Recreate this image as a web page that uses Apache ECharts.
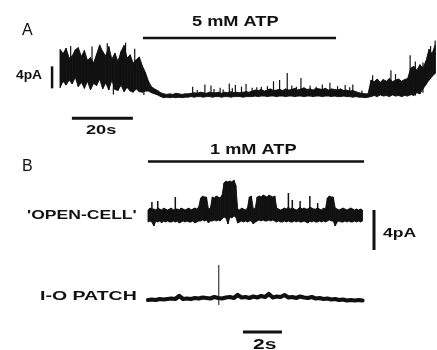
<!DOCTYPE html>
<html>
<head>
<meta charset="utf-8">
<script src="https://cdn.jsdelivr.net/npm/echarts@6/dist/echarts.min.js"></script>
<style>
  html, body { margin: 0; padding: 0; background: #fff; }
  #chart { width: 437px; height: 350px; }
</style>
</head>
<body>
<div id="chart"></div>
<script>
// ---- Panel A: whole-cell current, min/max envelope in 1 s bins (pA above closed level) ----
const A_BIN = 1;   // s
const loA = [
  1.4, 2.6, 1.9, 2.8, 2.1, 3.3, 1.6, 2.4, 1.3, 2.6,
  1.0, 2.2, 1.8, 3.0, 1.2, 2.3, 1.0, 2.8, 1.1, 0.9,
  1.9, 0.7, 1.5, 0.8, 0.6, 1.2, 0.7, 0.6, 0.8,
  0.8, 0.5, 0.3, 0.1, -0.2,
  -0.4, -0.3, -0.4, -0.3, -0.4, -0.3, -0.4, -0.3, -0.3,
  -0.2, -0.3, -0.2, -0.2, -0.3, -0.2, -0.2, -0.3, -0.2, -0.2,
  -0.3, -0.2, -0.2, -0.3, -0.2, -0.2, -0.2, -0.3, -0.2, -0.2,
  -0.2, -0.1, -0.2, -0.1, -0.1, -0.2, -0.1, -0.1, -0.2, -0.1, -0.1, -0.2, -0.1,
  -0.1, -0.2, -0.1, -0.1, -0.2, -0.1, -0.1, -0.2, -0.1, -0.1, -0.2,
  -0.1, -0.1, -0.2, -0.1, -0.2, -0.2, -0.1, -0.2, -0.2, -0.3, -0.2,
  -0.3, -0.3, -0.4, -0.3,
  -0.2, 0.0, -0.2, 0.1, -0.1, 0.0, -0.2, 0.1, -0.1, 0.0, -0.2, 0.0, -0.1,
  0.2, 0.0, 0.5, 0.3, 1.2, 2.0, 2.8, 3.5, 4.0
];
const hiA = [
  8.4, 7.6, 8.6, 6.8, 7.2, 8.3, 8.7, 7.1, 8.2, 6.4,
  6.9, 5.9, 7.5, 9.2, 8.0, 7.2, 8.9, 6.6, 7.7, 6.2,
  8.0, 9.1, 6.8, 7.4, 5.9, 6.5, 7.0, 5.4, 4.2,
  2.6, 1.6, 1.2, 0.9, 0.5,
  0.3, 0.2, 0.3, 0.2, 0.4, 0.3, 0.2, 0.3, 0.3,
  0.4, 0.5, 0.4, 0.6, 0.5, 0.4, 0.6, 0.5, 0.5, 0.6,
  0.4, 0.6, 0.5, 0.7, 0.5, 0.6, 0.5, 0.6, 0.7, 0.6,
  0.8, 1.0, 0.9, 1.1, 0.8, 1.0, 1.2, 0.9, 1.0, 1.1, 0.9, 1.2, 1.0,
  1.1, 1.3, 1.0, 1.2, 1.4, 1.1, 1.2, 1.0, 1.3, 1.2, 1.1,
  1.3, 1.0, 1.2, 1.1, 1.0, 1.2, 0.9, 1.0, 0.8, 0.9, 0.7,
  0.5, 0.4, 0.3, 0.3,
  2.8, 2.5, 3.0, 2.4, 2.9, 2.6, 3.1, 2.5, 2.8, 3.0, 2.6, 2.9, 3.1,
  5.0, 5.3, 4.6, 5.6, 5.0, 6.3, 8.4, 7.6, 9.2
];
// brief openings / closings: [time s, from pA, to pA]
const eventsA = [
  [3.5, 4, 9.0], [10.5, 4, 8.9], [15.5, 4, 9.5], [21.5, 4, 9.6], [24.5, 3, 8.5],
  [17.5, 0.2, 3], [27.5, 0.1, 2],
  [43.5, 0, 1.6], [45, 0, 1.0], [47.5, 0, 2.0], [49.5, 0, 1.8], [50.5, 0, 1.2],
  [52.5, 0, 1.4], [53.5, 0, 1.1], [55.5, 0, 2.2], [56.5, 0, 1.3], [57.5, 0, 1.9],
  [59.5, 0, 1.6], [61, 0, 2.1], [63, 0, 1.4], [64.5, 0, 1.5], [66, 0, 1.6],
  [68, 0, 1.7], [70, 0, 2.6], [72, 0, 2.8], [74.5, 0, 4.1], [76, 0, 1.8],
  [77.5, 0, 1.6], [79, 0, 3.2], [82, 0, 1.8], [84, 0, 1.6], [86, 0, 2.0],
  [88.5, 0, 2.3], [91, 0, 1.7], [93.5, 0, 1.9], [95, 0, 1.5], [96, 0, 2.0], [99, 0, 0.9],
  [102.5, 0, 3.7], [108.5, 0, 4.6], [110, 0, 3.9], [114.8, 0, 7.3],
  [116.5, 0, 6.2], [119, 0.5, 6.0], [121.5, 3, 9.0], [123, 4, 10.0]
];
const atpA_period = [27.2, 90.5];      // s, 5 mM ATP
const A_ATP_LABEL = '5 mM ATP';

// ---- Panel B: 'open-cell' record, min/max envelope in 0.1 s bins ----
const B_BIN = 0.1;   // s
const loOpen = [
  -0.1, 0.0, -0.1, -0.5, 0.0, -0.1, 0.0, -0.2, 0.0, -0.1,
  0.0, -0.1, -0.1, 0.0, -0.1, 0.0, -0.2, -0.1, 0.0, -0.1,
  0.0, -0.1, -0.1, 0.0, -0.2, -0.1, 0.0,
  0.0, 0.1, 0.0, 0.1,
  -0.2, 0.0,
  0.0, 0.1, 0.0, 0.1, 0.0, 0.2,
  0.4, 0.3, -0.3, 0.4, 0.3, 0.5, 0.4,
  -0.2, -0.1, 0.0, -0.1, 0.0, -0.1,
  0.0, 0.0, -0.3, -0.1, 0.0, 0.1, 0.0, 0.1, 0.0, 0.0, 0.1, 0.0, 0.1, 0.0,
  -0.1, 0.0, -0.1, -0.1, 0.0, -0.1, 0.0, -0.1, -0.1, 0.0,
  -0.1, 0.0, -0.1, -0.1, 0.0, -0.1, -0.2, 0.0, -0.1, 0.0,
  -0.1, -0.1, 0.0, -0.1, 0.0, -0.1,
  0.0, 0.1, 0.0, 0.0, -0.5,
  -0.1, 0.0, -0.1, -0.1, 0.0, -0.1, 0.0, -0.1, -0.1, 0.0, -0.1, 0.0, -0.1, 0.0
];
const hiOpen = [
  1.1, 1.3, 1.2, 1.2, 1.1, 1.3, 1.2, 1.1, 1.3, 1.2,
  1.1, 1.2, 1.3, 1.1, 1.2, 1.2, 1.1, 1.3, 1.2, 1.1,
  1.2, 1.3, 1.1, 1.2, 1.3, 1.2, 1.4,
  2.3, 2.5, 2.4, 2.4,
  1.2, 1.3,
  2.4, 2.3, 2.5, 2.4, 2.3, 2.6,
  3.8, 4.0, 3.9, 4.0, 3.9, 4.1, 3.6,
  1.2, 1.1, 1.3, 1.2, 1.1, 1.3,
  2.4, 2.5, 1.2, 1.3, 2.4, 2.5, 2.4, 2.6, 2.5, 2.4, 2.6, 2.5, 2.4, 2.5,
  1.3, 1.2, 1.1, 1.2, 1.3, 1.2, 1.4, 1.2, 1.3, 1.2,
  1.1, 1.2, 1.4, 1.2, 1.3, 1.2, 1.2, 1.4, 1.3, 1.2,
  1.2, 1.3, 1.2, 1.1, 1.3, 1.2,
  2.3, 2.5, 2.4, 2.4, 1.3,
  1.2, 1.1, 1.2, 1.3, 1.2, 1.1, 1.2, 1.3, 1.2, 1.1, 1.2, 1.1, 1.2, 1.1
];
const eventsOpen = [
  [0.2, 1, 1.9], [0.5, 1, 2.0], [1.4, 1, 2.4],
  [7.2, 1, 2.8], [7.4, 1, 2.1], [7.8, 1, 2.0], [8.3, 1, 2.5], [8.7, 1, 1.8]
];
// inside-out patch, 0.2 s samples
const B_DT_IO = 0.2;
const ioPatch = [
  0.2, 0.25, 0.2, 0.3, 0.25, 0.3, 0.35, 0.3, 0.6, 0.3,
  0.35, 0.3, 0.4, 0.35, 0.45, 0.4, 0.35, 0.5, 0.4, 0.35,
  0.45, 0.5, 0.4, 0.7, 0.45, 0.5, 0.4, 0.55, 0.45, 0.6,
  0.5, 0.8, 0.45, 0.55, 0.5, 0.7, 0.45, 0.5, 0.4, 0.55,
  0.45, 0.4, 0.5, 0.35, 0.4, 0.3, 0.35, 0.25, 0.3, 0.2,
  0.25, 0.15, 0.2, 0.15, 0.2, 0.15
];
const eventsIO = [[3.63, -0.3, 3.7]];
const atpB_period = [0, 11.08];
const B_ATP_LABEL = '1 mM ATP';
const B_TRACE_LABELS = ["'OPEN-CELL'", 'I-O PATCH'];

// calibration
const CAL_A_PA = 4, CAL_A_S = 20, CAL_B_PA = 4, CAL_B_S = 2;

// ---- layout (pixels / axis placement) ----
const layout = {
  gridA:  { left: 40.175, top: 29.5, width: 396.5, height: 96.25 },
  xA: [-6.5, 123.5], yA: [-5.5, 12],
  gridB1: { left: 148, top: 140, width: 234, height: 115 },
  xB: [0, 12], yB1: [-3.4, 8.1],
  gridB2: { left: 148, top: 255, width: 234, height: 95 },
  yB2: [-4.8, 4.7],
  atpA_level: 10.45, calA_t: -2.6, calA_base: 1.3, calA_time: [3.9, -4.15],
  atpB_level: 5.95, calB_t: 11.59, calB_base: -2.9, calB_time: [4.87, -3.0]
};

const ink = '#111';

function binned(dt, values) {
  return values.map((v, i) => [i * dt, v]);
}

// filled min/max band: one quadrilateral between each pair of neighbouring bins
function envelope(name, gi, dt, lo, hi) {
  const items = [];
  for (let i = 0; i + 1 < lo.length; i++) {
    items.push([i * dt, lo[i], hi[i], (i + 1) * dt, lo[i + 1], hi[i + 1]]);
  }
  return {
    name, type: 'custom', coordinateSystem: 'cartesian2d',
    xAxisIndex: gi, yAxisIndex: gi, data: items, silent: true, animation: false, clip: false,
    encode: { x: [0, 3], y: [1, 2, 4, 5] },
    renderItem: (params, api) => {
      const p = [
        api.coord([api.value(0), api.value(2)]),
        api.coord([api.value(3), api.value(5)]),
        api.coord([api.value(3), api.value(4)]),
        api.coord([api.value(0), api.value(1)])
      ];
      return {
        type: 'polygon', shape: { points: p },
        style: { fill: ink, stroke: ink, lineWidth: 0.9, lineJoin: 'round' }
      };
    }
  };
}

// brief transitions drawn as thin vertical strokes
function transitions(name, gi, events, width) {
  return {
    name, type: 'custom', coordinateSystem: 'cartesian2d',
    xAxisIndex: gi, yAxisIndex: gi, data: events, silent: true, animation: false, clip: false,
    encode: { x: 0, y: [1, 2] },
    renderItem: (params, api) => {
      const a = api.coord([api.value(0), api.value(1)]);
      const b = api.coord([api.value(0), api.value(2)]);
      return {
        type: 'line',
        shape: { x1: a[0], y1: a[1], x2: b[0], y2: b[1] },
        style: { stroke: ink, lineWidth: width }
      };
    }
  };
}

function seg(name, gi, data, width, extra) {
  return Object.assign({
    name, type: 'line', xAxisIndex: gi, yAxisIndex: gi, data,
    symbol: 'none', silent: true, animation: false, clip: false,
    lineStyle: { color: ink, width, cap: 'butt' }
  }, extra || {});
}

const chart = echarts.init(document.getElementById('chart'), null, { renderer: 'canvas' });

const hiddenX = (gi, r) => ({ type: 'value', gridIndex: gi, min: r[0], max: r[1], show: false });
const hiddenY = (gi, r) => ({ type: 'value', gridIndex: gi, min: r[0], max: r[1], show: false });

function label(text, x, y, size, weight, scaleX) {
  return {
    type: 'text', x, y, scaleX: scaleX || 1, silent: true,
    style: {
      text, fill: ink, align: 'left', verticalAlign: 'middle',
      font: `${weight} ${size}px "Liberation Sans", Arial, sans-serif`
    }
  };
}

chart.setOption({
  backgroundColor: '#fff',
  animation: false,
  grid: [layout.gridA, layout.gridB1, layout.gridB2],
  xAxis: [hiddenX(0, layout.xA), hiddenX(1, layout.xB), hiddenX(2, layout.xB)],
  yAxis: [hiddenY(0, layout.yA), hiddenY(1, layout.yB1), hiddenY(2, layout.yB2)],
  series: [
    envelope('A', 0, A_BIN, loA, hiA),
    transitions('A events', 0, eventsA, 1.2),
    seg('A ATP', 0, [[atpA_period[0], layout.atpA_level], [atpA_period[1], layout.atpA_level]], 2.5),
    seg('A cal pA', 0, [[layout.calA_t, layout.calA_base], [layout.calA_t, layout.calA_base + CAL_A_PA]], 2.5),
    seg('A cal s', 0, [[layout.calA_time[0], layout.calA_time[1]], [layout.calA_time[0] + CAL_A_S, layout.calA_time[1]]], 3),
    envelope('open', 1, B_BIN, loOpen, hiOpen),
    transitions('open events', 1, eventsOpen, 1.5),
    seg('B ATP', 1, [[atpB_period[0], layout.atpB_level], [atpB_period[1], layout.atpB_level]], 2.5),
    seg('B cal pA', 1, [[layout.calB_t, layout.calB_base], [layout.calB_t, layout.calB_base + CAL_B_PA]], 3),
    seg('I-O', 2, binned(B_DT_IO, ioPatch), 4.2, { lineStyle: { color: ink, width: 4.2, join: 'round', cap: 'round' } }),
    transitions('I-O events', 2, eventsIO, 1),
    seg('B cal s', 2, [[layout.calB_time[0], layout.calB_time[1]], [layout.calB_time[0] + CAL_B_S, layout.calB_time[1]]], 3)
  ],
  graphic: [
    label('A', 22, 31, 16, 'normal'),
    label(`${CAL_A_PA}pA`, 16, 75.5, 12, 'bold', 1.15),
    label(`${CAL_A_S}s`, 86, 130.5, 13, 'bold', 1.4),
    label(A_ATP_LABEL, 192, 22.5, 14, 'bold', 1.3),
    label('B', 22, 166.5, 16, 'normal'),
    label(B_ATP_LABEL, 210, 150, 14, 'bold', 1.3),
    label(B_TRACE_LABELS[0], 27, 215, 13, 'bold', 1.35),
    label(B_TRACE_LABELS[1], 40, 296, 13, 'bold', 1.5),
    label(`${CAL_B_PA}pA`, 383, 233, 13, 'bold', 1.35),
    label(`${CAL_B_S}s`, 253, 345, 14, 'bold', 1.5)
  ]
});
</script>
</body>
</html>
